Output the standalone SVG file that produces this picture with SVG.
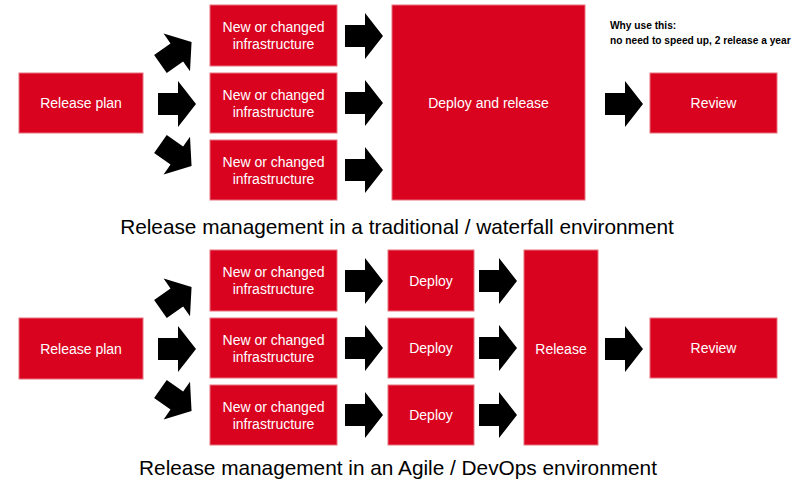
<svg xmlns="http://www.w3.org/2000/svg" xmlns:xlink="http://www.w3.org/1999/xlink" width="798" height="483" viewBox="0 0 798 483">
<style>
.box{fill:#d9031f;stroke:#e8737e;stroke-width:1}
.t{font-family:"Liberation Sans",Arial,sans-serif;font-size:14px;fill:#fff;text-anchor:middle}
.title{font-family:"Liberation Sans",Arial,sans-serif;font-size:20.8px;fill:#000;text-anchor:middle}
.note{font-family:"Liberation Sans",Arial,sans-serif;font-size:10.2px;font-weight:bold;fill:#000}
</style>
<defs>
<path id="arr" d="M-19,-11 H1 V-23 L19,0 L1,23 V11 H-19 Z" fill="#000"/>
</defs>
<rect width="798" height="483" fill="#fff"/>

<g id="top-release-plan"><rect class="box" x="19" y="73" width="124" height="60"/><text class="t" x="81" y="108">Release plan</text></g>
<g id="top-infra-1"><rect class="box" x="210" y="5" width="127" height="61"/><text class="t" x="273.5" y="32">New or changed</text><text class="t" x="273.5" y="49">infrastructure</text></g>
<g id="top-infra-2"><rect class="box" x="210" y="73" width="127" height="60"/><text class="t" x="273.5" y="100">New or changed</text><text class="t" x="273.5" y="117">infrastructure</text></g>
<g id="top-infra-3"><rect class="box" x="210" y="140" width="127" height="60"/><text class="t" x="273.5" y="167">New or changed</text><text class="t" x="273.5" y="184">infrastructure</text></g>
<g id="top-deploy-release"><rect class="box" x="392" y="5" width="193" height="195"/><text class="t" x="488.5" y="108">Deploy and release</text></g>
<g id="top-review"><rect class="box" x="650" y="73" width="127" height="60"/><text class="t" x="713.5" y="108">Review</text></g>
<g id="note"><text class="note" x="610" y="29">Why use this:</text><text class="note" x="610" y="44">no need to speed up, 2 release a year</text></g>
<text class="title" x="397" y="234">Release management in a traditional / waterfall environment</text>

<g id="bot-release-plan"><rect class="box" x="19" y="318" width="124" height="61"/><text class="t" x="81" y="354">Release plan</text></g>
<g id="bot-infra-1"><rect class="box" x="210" y="250" width="127" height="61"/><text class="t" x="273.5" y="277">New or changed</text><text class="t" x="273.5" y="294">infrastructure</text></g>
<g id="bot-infra-2"><rect class="box" x="210" y="318" width="127" height="60"/><text class="t" x="273.5" y="345">New or changed</text><text class="t" x="273.5" y="362">infrastructure</text></g>
<g id="bot-infra-3"><rect class="box" x="210" y="385" width="127" height="60"/><text class="t" x="273.5" y="412">New or changed</text><text class="t" x="273.5" y="429">infrastructure</text></g>
<g id="bot-deploy-1"><rect class="box" x="388" y="250" width="86" height="61"/><text class="t" x="431" y="286">Deploy</text></g>
<g id="bot-deploy-2"><rect class="box" x="388" y="318" width="86" height="60"/><text class="t" x="431" y="353">Deploy</text></g>
<g id="bot-deploy-3"><rect class="box" x="388" y="385" width="86" height="60"/><text class="t" x="431" y="420">Deploy</text></g>
<g id="bot-release"><rect class="box" x="524" y="250" width="74" height="195"/><text class="t" x="561" y="354">Release</text></g>
<g id="bot-review"><rect class="box" x="650" y="318" width="127" height="60"/><text class="t" x="713.5" y="353">Review</text></g>
<text class="title" x="398" y="475">Release management in an Agile / DevOps environment</text>

<g id="connectors">
<use xlink:href="#arr" transform="translate(176,53) rotate(-35)"/>
<use xlink:href="#arr" transform="translate(177,104)"/>
<use xlink:href="#arr" transform="translate(176,155) rotate(35)"/>
<use xlink:href="#arr" transform="translate(364,36)"/>
<use xlink:href="#arr" transform="translate(364,103)"/>
<use xlink:href="#arr" transform="translate(364,170)"/>
<use xlink:href="#arr" transform="translate(624,104)"/>
<use xlink:href="#arr" transform="translate(176,298) rotate(-35)"/>
<use xlink:href="#arr" transform="translate(177,349)"/>
<use xlink:href="#arr" transform="translate(176,400) rotate(35)"/>
<use xlink:href="#arr" transform="translate(364,281)"/>
<use xlink:href="#arr" transform="translate(364,348)"/>
<use xlink:href="#arr" transform="translate(364,415)"/>
<use xlink:href="#arr" transform="translate(498,281)"/>
<use xlink:href="#arr" transform="translate(498,348)"/>
<use xlink:href="#arr" transform="translate(498,415)"/>
<use xlink:href="#arr" transform="translate(624,349)"/>
</g>
</svg>
